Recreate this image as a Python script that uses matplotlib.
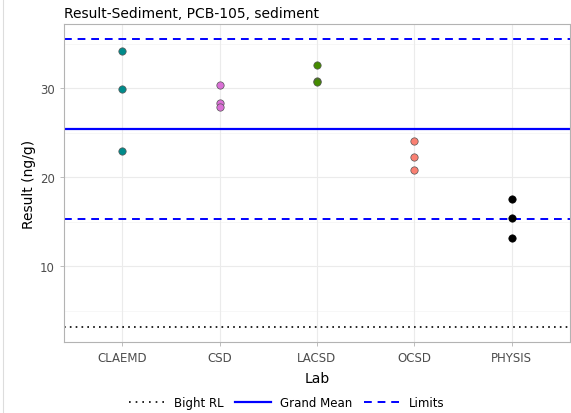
import numpy as np
import matplotlib.pyplot as plt
from matplotlib.lines import Line2D

labs = ["CLAEMD", "CSD", "LACSD", "OCSD", "PHYSIS"]
results = {
    "CLAEMD": [34.2, 29.9, 22.9],
    "CSD": [30.3, 28.3, 27.9],
    "LACSD": [32.6, 30.8, 30.7],
    "OCSD": [24.1, 22.3, 20.8],
    "PHYSIS": [17.5, 15.4, 13.1],
}
lab_colors = ["#008B8B", "#DA70D6", "#458B00", "#FA8072", "#000000"]

grand_mean = 25.4
upper_limit = 35.5
lower_limit = 15.3
bight_rl = 3.1

fig = plt.figure(figsize=(5.71, 4.14), dpi=100)
ax = fig.add_axes([64 / 571, 1 - 343 / 414, (570 - 64) / 571, (343 - 25) / 414])

# grid (major + minor)
for y in [10, 20, 30]:
    ax.axhline(y, color="#EBEBEB", lw=0.8, zorder=0)
for y in [5, 15, 25, 35]:
    ax.axhline(y, color="#F4F4F4", lw=0.5, zorder=0)
for i in range(len(labs)):
    ax.axvline(i + 1, color="#EBEBEB", lw=0.8, zorder=0)

ax.axhline(bight_rl, color="black", lw=1.2, ls=(0, (1, 2.5)), zorder=2)
ax.axhline(grand_mean, color="#0000FF", lw=1.6, zorder=2)
ax.axhline(upper_limit, color="#0000FF", lw=1.4, ls=(0, (4, 3)), zorder=2)
ax.axhline(lower_limit, color="#0000FF", lw=1.4, ls=(0, (4, 3)), zorder=2)

for i, lab in enumerate(labs):
    vals = results[lab]
    ec = "black" if lab == "PHYSIS" else "#555555"
    ax.scatter([i + 1] * len(vals), vals, s=28, color=lab_colors[i],
               edgecolors=ec, linewidths=0.5, zorder=3)

ax.set_xlim(0.4, 5.6)
ax.set_ylim(1.46, 37.2)
ax.set_xticks(range(1, len(labs) + 1))
ax.set_xticklabels(labs)
ax.set_yticks([10, 20, 30])
ax.tick_params(colors="#B3B3B3", labelcolor="#4D4D4D", labelsize=8.5,
               length=3, width=0.6)
for s in ax.spines.values():
    s.set_color("#B3B3B3")
    s.set_linewidth(0.8)

ax.set_xlabel("Lab", fontsize=10, labelpad=5)
ax.set_ylabel("Result (ng/g)", fontsize=10, labelpad=3)
ax.set_title("Result-Sediment, PCB-105, sediment", fontsize=10, loc="left", pad=5)

handles = [
    Line2D([], [], color="black", lw=1.2, ls=(0, (1, 3))),
    Line2D([], [], color="#0000FF", lw=1.6),
    Line2D([], [], color="#0000FF", lw=1.4, ls=(0, (4, 3))),
]
fig.legend(handles, ["Bight RL", "Grand Mean", "Limits"], loc="center",
           bbox_to_anchor=(287 / 571, 1 - 404 / 414), ncol=3, frameon=False,
           fontsize=8.5, handlelength=3, columnspacing=1.0, handletextpad=0.8)

fig.add_artist(Line2D([3 / 571, 3 / 571], [0, 1], color="#DDDDDD", lw=0.8))

fig.savefig("out.png", dpi=100)
